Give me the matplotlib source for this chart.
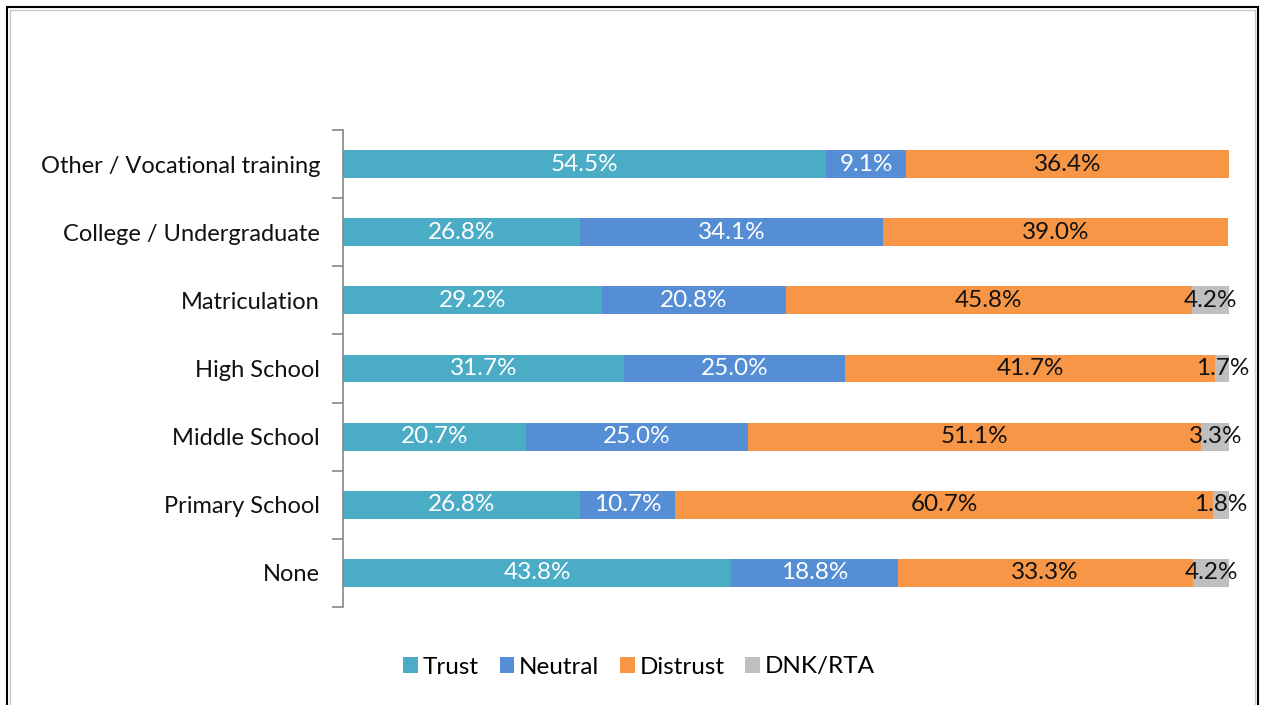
import matplotlib
matplotlib.use("Agg")
import matplotlib.pyplot as plt
from matplotlib.patches import Rectangle
import numpy as np

plt.rcParams['font.family'] = ['Lato', 'DejaVu Sans']

categories = ["None", "Primary School", "Middle School", "High School",
              "Matriculation", "College / Undergraduate", "Other / Vocational training"]
series = ["Trust", "Neutral", "Distrust", "DNK/RTA"]
trust = [43.8, 26.8, 20.7, 31.7, 29.2, 26.8, 54.5]
neutral = [18.8, 10.7, 25.0, 25.0, 20.8, 34.1, 9.1]
distrust = [33.3, 60.7, 51.1, 41.7, 45.8, 39.0, 36.4]
dnk = [4.2, 1.8, 3.3, 1.7, 4.2, 0.0, 0.0]

colors = ["#4BACC6", "#558ED5", "#F79646", "#BFBFBF"]
text_colors = ["white", "white", "#111111", "#111111"]

fig = plt.figure(figsize=(12.61, 7.05), dpi=100)
W, H = 1261, 705

# chart frame
fig.patches.append(Rectangle((7 / W, -0.01), (1258 - 7) / W, (H - 7) / H + 0.01,
                             transform=fig.transFigure, fill=False,
                             edgecolor="black", linewidth=1.5))
fig.patches.append(Rectangle((10 / W, -0.01), (1255 - 10) / W, (H - 10) / H + 0.01,
                             transform=fig.transFigure, fill=False,
                             edgecolor="#c8c8c8", linewidth=1.0))

ax = fig.add_axes([343 / W, 1 - 607 / H, (1229 - 343) / W, (607 - 130) / H])

y = np.arange(len(categories))
data = [trust, neutral, distrust, dnk]
left = np.zeros(len(categories))
for vals, name, col, tcol in zip(data, series, colors, text_colors):
    vals = np.array(vals)
    ax.barh(y, vals, left=left, height=0.41, color=col, label=name)
    for yi, (l, v) in enumerate(zip(left, vals)):
        if v > 0:
            ax.text(l + v / 2, yi, f"{v:.1f}%", ha="center", va="center",
                    color=tcol, fontsize=17.5)
    left = left + vals

ax.set_xlim(0, 100)
ax.set_ylim(-0.5, len(categories) - 0.5)

ax.set_yticks(y)
ax.set_yticklabels(categories, fontsize=17, color="#111111")
ax.tick_params(axis="y", which="major", length=0, pad=16.5)
ax.set_yticks(np.arange(-0.5, len(categories), 1.0), minor=True)
ax.tick_params(axis="y", which="minor", length=8, color="#868686", width=1.2)
ax.set_xticks([])
for s in ["top", "right", "bottom"]:
    ax.spines[s].set_visible(False)
ax.spines["left"].set_color("#868686")
ax.spines["left"].set_linewidth(1.2)

handles, labels = ax.get_legend_handles_labels()
fig.legend(handles, labels, loc="center", bbox_to_anchor=(639 / W, 1 - 667 / H),
           ncol=4, frameon=False, fontsize=17.5, handlelength=0.6, handleheight=0.6,
           handletextpad=0.2, columnspacing=0.85)

fig.savefig("out.png", dpi=100)
